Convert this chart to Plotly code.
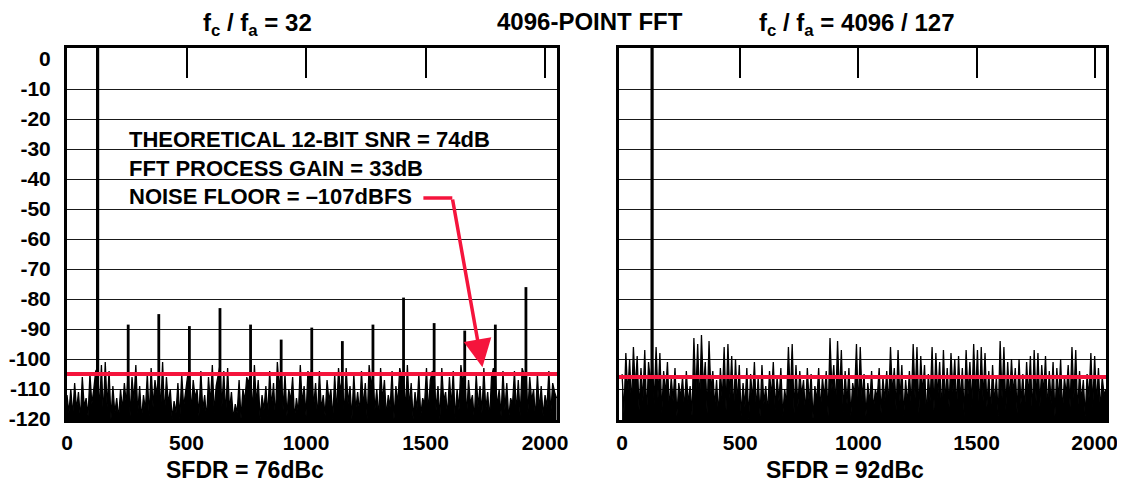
import numpy as np
import plotly.graph_objects as go

# ========== DATA ==========

BIN_STEP = 8          # noise samples every 8 FFT bins (0..2048)
N_BINS = 2048

# left panel: fc/fa = 32 -> fundamental at bin 128, harmonics every 128 bins
left_fund_bin = 128
left_spur_bins = [256, 384, 512, 640, 768, 896, 1024, 1152, 1280, 1408, 1536, 1664, 1792, 1920]
left_spur_db = [-88.5, -85, -89, -83, -88.5, -93.5, -89.5, -94, -88.5, -79.5, -88, -90.5, -88.5, -76]
left_noise_db = [
    -112, -118, -110, -119, -108, -117, -111, -120, -106, -116, -113, -119, -105, -115, -110, -104,
    -103, -117, -102, -119, -101, -116, -104, -120, -109, -118, -113, -120, -110, -117, -108, -115,
    -104, -119, -106, -114, -102, -118, -109, -120, -112, -117, -105, -119, -103, -116, -107, -112,
    -104, -117, -101, -119, -106, -115, -110, -120, -114, -118, -108, -120, -105, -116, -111, -106,
    -103, -118, -107, -113, -110, -119, -104, -117, -112, -120, -106, -115, -102, -118, -109, -105,
    -102, -116, -104, -119, -103, -117, -111, -120, -115, -118, -107, -120, -110, -114, -106, -108,
    -104, -118, -102, -115, -107, -120, -112, -117, -109, -119, -104, -116, -108, -120, -101, -110,
    -103, -117, -105, -119, -110, -114, -106, -120, -113, -118, -102, -115, -109, -119, -104, -107,
    -103, -116, -108, -120, -104, -117, -112, -119, -107, -114, -110, -120, -105, -118, -103, -111,
    -106, -119, -103, -115, -109, -120, -105, -117, -111, -118, -104, -116, -108, -120, -102, -109,
    -105, -117, -110, -120, -103, -114, -107, -119, -112, -116, -104, -120, -109, -115, -103, -106,
    -104, -118, -102, -116, -108, -120, -111, -117, -105, -119, -113, -115, -103, -118, -107, -104,
    -105, -117, -109, -120, -103, -114, -111, -119, -106, -116, -104, -120, -110, -117, -102, -108,
    -104, -119, -107, -115, -112, -120, -105, -116, -109, -118, -103, -117, -111, -120, -106, -103,
    -105, -116, -110, -119, -104, -117, -108, -120, -113, -115, -104, -118, -107, -119, -103, -105,
    -104, -118, -106, -114, -110, -120, -105, -117, -109, -119, -112, -116, -104, -118, -108, -111,
    -113,
]
left_floor_db = -105

# right panel: fc/fa = 4096/127 -> fundamental at bin 127, spurs buried in noise
right_fund_bin = 127
right_noise_db = [
    -105, -118, -98, -112, -100, -116, -96, -110, -99, -117, -103, -114, -97, -119, -101, -108,
    -100, -115, -96, -113, -98, -118, -104, -112, -101, -117, -106, -114, -103, -119, -108, -113,
    -106, -117, -104, -115, -109, -119, -93, -112, -95, -116, -92, -110, -101, -118, -94, -111,
    -104, -116, -107, -119, -103, -114, -96, -117, -95, -113, -99, -118, -100, -115, -102, -119,
    -108, -116, -103, -120, -105, -114, -101, -117, -106, -119, -102, -115, -109, -118, -104, -113,
    -101, -117, -106, -114, -103, -119, -110, -115, -96, -113, -95, -118, -102, -116, -104, -112,
    -107, -118, -103, -115, -105, -120, -109, -114, -103, -117, -106, -113, -104, -119, -93, -110,
    -102, -116, -94, -113, -97, -118, -104, -115, -103, -119, -108, -112, -95, -117, -96, -114,
    -105, -119, -108, -115, -104, -117, -110, -113, -103, -118, -106, -114, -104, -116, -96, -112,
    -103, -117, -97, -114, -102, -119, -107, -115, -104, -116, -95, -113, -96, -118, -99, -112,
    -102, -119, -105, -114, -96, -117, -98, -113, -101, -118, -97, -115, -103, -116, -98, -111,
    -100, -117, -99, -114, -103, -119, -97, -112, -101, -116, -95, -113, -97, -118, -96, -114,
    -98, -116, -104, -118, -102, -115, -106, -119, -94, -113, -96, -117, -101, -114, -100, -112,
    -103, -118, -100, -115, -105, -117, -101, -113, -99, -119, -97, -114, -98, -116, -102, -112,
    -99, -117, -104, -115, -101, -119, -103, -114, -100, -118, -106, -112, -102, -116, -96, -113,
    -97, -118, -104, -114, -107, -119, -105, -113, -98, -116, -99, -115, -103, -117, -106, -112,
    -110,
]
right_floor_db = -106

x_ticks = [0, 500, 1000, 1500, 2000]
top_ticks = [500, 1000, 1500, 2000]
y_ticks = [0, -10, -20, -30, -40, -50, -60, -70, -80, -90, -100, -110, -120]
grid_db = [-10, -20, -30, -40, -50, -60, -70, -80, -90, -100, -110]

# ========== STYLE ==========
PAGE_OFFSET = 8               # default body margin of the html page
W, H = 1125 - PAGE_OFFSET, 485 - PAGE_OFFSET
RED = '#f5143c'
FONT = 'Liberation Sans, Arial, sans-serif'
Y_RANGE = [-120.3, 3.7]
TOP = 5  # fundamental drawn to the frame top


def px_x(p):
    return (p - PAGE_OFFSET) / W


def px_y(p):
    return 1 - (p - PAGE_OFFSET) / H


bins = np.arange(0, N_BINS + 1, BIN_STEP)
baseline = [Y_RANGE[0] - 1] * len(bins)

fig = go.Figure()


def spur_xy(bin_list, db_list, base=-120):
    xs, ys = [], []
    for b, v in zip(bin_list, db_list):
        xs += [b, b, None]
        ys += [base, v, None]
    return xs, ys


def add_noise(values, xa, ya):
    # invisible floor, then the noise trace filled down to it
    fig.add_trace(go.Scatter(x=bins, y=baseline, mode='lines', line=dict(width=0),
                             xaxis=xa, yaxis=ya))
    fig.add_trace(go.Scatter(x=bins, y=values, mode='lines', fill='tonexty',
                             fillcolor='black', line=dict(color='black', width=1.3),
                             xaxis=xa, yaxis=ya))


# --- left panel
add_noise(left_noise_db, 'x', 'y')
sx, sy = spur_xy(left_spur_bins, left_spur_db)
fig.add_trace(go.Scatter(x=sx, y=sy, mode='lines',
                         line=dict(color='black', width=2.8), xaxis='x', yaxis='y'))
fig.add_trace(go.Scatter(x=[left_fund_bin, left_fund_bin], y=[-120, TOP], mode='lines',
                         line=dict(color='black', width=3.2), xaxis='x', yaxis='y'))
fig.add_trace(go.Scatter(x=[0, N_BINS + 2], y=[left_floor_db, left_floor_db], mode='lines',
                         line=dict(color=RED, width=4), xaxis='x3', yaxis='y'))

# --- right panel
add_noise(right_noise_db, 'x2', 'y2')
fig.add_trace(go.Scatter(x=[right_fund_bin, right_fund_bin], y=[-120, TOP], mode='lines',
                         line=dict(color='black', width=3.2), xaxis='x2', yaxis='y2'))
fig.add_trace(go.Scatter(x=[-13, N_BINS], y=[right_floor_db, right_floor_db], mode='lines',
                         line=dict(color=RED, width=4), xaxis='x4', yaxis='y2'))

# ========== AXES ==========
ydom = [px_y(420), px_y(48)]
left_range = [0, 2050]
right_range = [-13, 2048]

frame = dict(showline=True, mirror=True, linewidth=3, linecolor='black',
             zeroline=False, showgrid=False, automargin=False)
tickfont = dict(family=FONT, size=21, color='black', weight=700)

xcommon = dict(tickvals=x_ticks, ticks='', tickfont=tickfont, ticklabelstandoff=2, **frame)
ycommon = dict(range=Y_RANGE, domain=ydom, tickvals=y_ticks, ticks='',
               minor=dict(tickvals=grid_db, showgrid=True, gridcolor='#1a1a1a', gridwidth=1.3),
               **frame)
topcommon = dict(side='top', tickvals=top_ticks, ticks='inside', ticklen=30, tickwidth=1.5,
                 tickcolor='black', showticklabels=False, showgrid=False, showline=False,
                 zeroline=False, automargin=False)

fig.update_layout(
    xaxis=dict(domain=[px_x(67), px_x(557)], range=left_range, anchor='y', **xcommon),
    yaxis=dict(anchor='x', ticktext=[str(v) for v in y_ticks], tickfont=tickfont,
               ticklabelstandoff=9, **ycommon),
    xaxis2=dict(domain=[px_x(619), px_x(1106)], range=right_range, anchor='y2', **xcommon),
    yaxis2=dict(anchor='x2', showticklabels=False, **ycommon),
    xaxis3=dict(overlaying='x', anchor='y', range=left_range, **topcommon),
    xaxis4=dict(overlaying='x2', anchor='y2', range=right_range, **topcommon),
)

# ========== TEXT ==========
big = dict(family=FONT, size=22, color='black', weight=700)


def add_text(text, xp, yp, anchor='center', size=22):
    fig.add_annotation(text=text, x=px_x(xp), y=px_y(yp), xref='paper', yref='paper',
                       xanchor=anchor, yanchor='middle', showarrow=False,
                       font=dict(big, size=size))


add_text('f<sub>c</sub> / f<sub>a</sub> = 32', 257, 24, size=24)
add_text('4096-POINT FFT', 590, 21, size=24)
add_text('f<sub>c</sub> / f<sub>a</sub> = 4096 / 127', 856, 24, size=24)
add_text('SFDR = 76dBc', 245, 470, size=23)
add_text('SFDR = 92dBc', 845, 470, size=23)
add_text('THEORETICAL 12-BIT SNR = 74dB', 127, 140, anchor='left', size=22)
add_text('FFT PROCESS GAIN = 33dB', 127, 168, anchor='left', size=22)
add_text('NOISE FLOOR = \u2013107dBFS', 127, 196, anchor='left', size=22)

# red pointer from the label down to the noise floor
arrow_start = (1491, -46.3)
arrow_bend = (1612, -46.3)
arrow_tip = (1738, -102.7)
fig.add_shape(type='line', xref='x', yref='y',
              x0=arrow_start[0], y0=arrow_start[1], x1=arrow_bend[0], y1=arrow_bend[1],
              line=dict(color=RED, width=3.5))
fig.add_annotation(x=arrow_tip[0], y=arrow_tip[1], ax=arrow_bend[0], ay=arrow_bend[1],
                   xref='x', yref='y', axref='x', ayref='y', text='', showarrow=True,
                   arrowhead=2, arrowsize=1.6, arrowwidth=3.5, arrowcolor=RED)

fig.update_layout(
    width=W, height=H,
    margin=dict(l=0, r=0, t=0, b=0),
    paper_bgcolor='white',
    plot_bgcolor='white',
    showlegend=False,
    hovermode=False,
    font=dict(family=FONT, color='black'),
)

fig.write_html("out.html")
